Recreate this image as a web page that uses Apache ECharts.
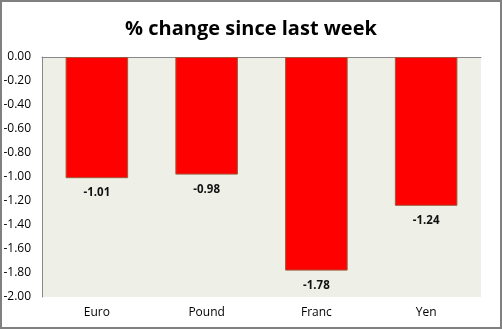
<!DOCTYPE html>
<html>
<head>
<meta charset="utf-8">
<script src="https://cdn.jsdelivr.net/npm/echarts@6/dist/echarts.min.js"></script>
<style>
  html, body { margin: 0; padding: 0; background: #fff; }
  #chart { width: 502px; height: 329px; }
</style>
</head>
<body>
<div id="chart"></div>
<script>
// Weekly currency moves
const currencies = ['Euro', 'Pound', 'Franc', 'Yen'];
const pctChange = [-1.01, -0.98, -1.78, -1.24];
const yTicks = { min: -2, max: 0, step: 0.2 };

const chart = echarts.init(document.getElementById('chart'));
const font = '"Open Sans", "DejaVu Sans", sans-serif';

chart.setOption({
  backgroundColor: '#ffffff',
  animation: false,
  title: {
    text: '% change since last week',
    left: 'center',
    top: 14,
    textStyle: { fontFamily: font, fontSize: 20, fontWeight: 'bold', color: '#000' }
  },
  graphic: [{
    type: 'rect',
    shape: { x: 1, y: 1, width: 500, height: 327 },
    style: { fill: 'none', stroke: '#808080', lineWidth: 2 },
    silent: true
  }],
  grid: {
    left: 42, right: 21, top: 57, bottom: 32,
    show: true, backgroundColor: '#eef0e7', borderWidth: 0
  },
  xAxis: [{
    type: 'category',
    data: currencies,
    position: 'bottom',
    axisLine: { show: false, onZero: false },
    axisTick: { show: false },
    axisLabel: { fontFamily: font, fontSize: 12, color: '#000', margin: 10 }
  }, {
    type: 'category',
    data: currencies,
    position: 'top',
    axisLine: { show: true, lineStyle: { color: '#888', width: 1 } },
    axisTick: { show: false },
    axisLabel: { show: false }
  }],
  yAxis: {
    type: 'value',
    min: yTicks.min,
    max: yTicks.max,
    interval: yTicks.step,
    axisLine: { show: true, lineStyle: { color: '#888', width: 1 } },
    axisTick: { show: false },
    splitLine: { show: false },
    axisLabel: {
      fontFamily: font, fontSize: 12, color: '#000', margin: 11,
      formatter: v => v.toFixed(2)
    }
  },
  series: [{
    type: 'bar',
    data: pctChange,
    barWidth: '57%',
    itemStyle: { color: '#ff0000', borderColor: '#9c5a3c', borderWidth: 1 },
    label: {
      show: true,
      position: 'bottom',
      distance: 9,
      fontFamily: font, fontSize: 11.5, fontWeight: 'bold', color: '#111',
      formatter: p => p.value.toFixed(2)
    }
  }]
});
</script>
</body>
</html>
